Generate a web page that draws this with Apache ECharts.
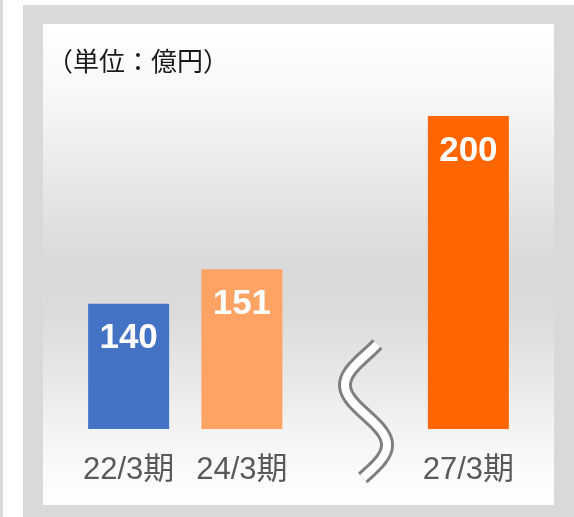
<!DOCTYPE html>
<html>
<head>
<meta charset="utf-8">
<script src="https://cdn.jsdelivr.net/npm/echarts@6/dist/echarts.min.js"></script>
<style>
  html, body { margin: 0; padding: 0; background: #fff; }
  #main { width: 574px; height: 517px; }
</style>
</head>
<body>
<div id="main"></div>
<script>
const categories = ['22/3期', '24/3期', '', '27/3期'];
const values = [140, 151, null, 200];
const barColors = ['#4472C4', '#FFA365', '#ffffff', '#FF6600'];
const unitLabel = '（単位：億円）';

// wavy "axis break" mark between 24/3 and 27/3 (decoration only)
const breakPoints = [];
for (let y = 344; y <= 479; y += 2) {
  breakPoints.push([366 + 21 * Math.sin(2 * Math.PI * (y - 415) / 120), y]);
}

const chart = echarts.init(document.getElementById('main'));

const option = {
  backgroundColor: '#ffffff',
  animation: false,
  title: {
    text: unitLabel,
    left: 47,
    top: 47,
    padding: 0,
    textStyle: {
      fontFamily: 'Noto Sans CJK JP',
      fontSize: 26,
      lineHeight: 28,
      fontWeight: 'normal',
      color: '#1a1a1a'
    }
  },
  grid: { left: 72, right: 49, top: 116, bottom: 88 },
  xAxis: {
    type: 'category',
    data: categories,
    axisLine: { show: false },
    axisTick: { show: false },
    axisLabel: {
      interval: 0,
      margin: 26,
      fontSize: 31,
      lineHeight: 30,
      color: '#595959',
      fontFamily: 'Liberation Sans, Noto Sans CJK JP'
    }
  },
  yAxis: {
    type: 'value',
    min: 100,
    max: 200,
    show: false,
    splitLine: { show: false }
  },
  graphic: [
    { type: 'rect', z: -10, shape: { x: 0, y: 0, width: 3, height: 517 }, style: { fill: '#d9d9d9' } },
    { type: 'rect', z: -10, shape: { x: 23, y: 5, width: 551, height: 512 }, style: { fill: '#d9d9d9' } },
    {
      type: 'rect', z: -9,
      shape: { x: 43, y: 24, width: 511, height: 481 },
      style: {
        fill: new echarts.graphic.LinearGradient(0, 0, 0, 1, [
          { offset: 0, color: '#ffffff' },
          { offset: 0.15, color: '#f7f7f7' },
          { offset: 0.5, color: '#d9d9d9' },
          { offset: 0.6, color: '#dbdbdb' },
          { offset: 0.9, color: '#f8f8f8' },
          { offset: 1, color: '#ffffff' }
        ])
      }
    },
    {
      type: 'polyline', z: 10,
      shape: { points: breakPoints },
      style: { stroke: '#7f7f7f', lineWidth: 14, lineJoin: 'round', fill: null }
    },
    {
      type: 'polyline', z: 11,
      shape: { points: breakPoints },
      style: { stroke: '#ffffff', lineWidth: 8, lineJoin: 'round', fill: null }
    }
  ],
  series: [{
    type: 'bar',
    barWidth: 81,
    data: values.map((v, i) => ({ value: v, itemStyle: { color: barColors[i] } })),
    label: {
      show: true,
      position: 'insideTop',
      distance: 18,
      color: '#ffffff',
      fontFamily: 'Liberation Sans',
      fontWeight: 'bold',
      fontSize: 35,
      lineHeight: 34
    }
  }]
};

chart.setOption(option);
</script>
</body>
</html>
